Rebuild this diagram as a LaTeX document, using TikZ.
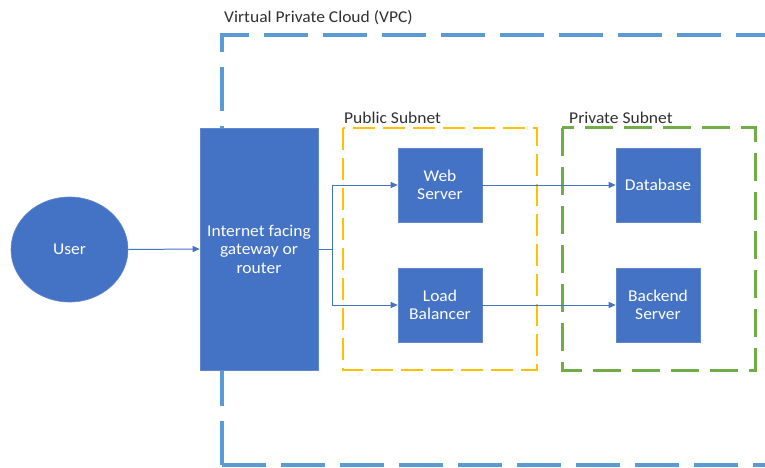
\documentclass[tikz,border=0pt]{standalone}
\usepackage{fontspec}
\setmainfont{Carlito}[FakeStretch=1.06]
\usetikzlibrary{arrows.meta,shapes.geometric}
\definecolor{boxblue}{HTML}{4472C4}
\definecolor{vpcblue}{HTML}{5B9BD5}
\definecolor{subyellow}{HTML}{FFC000}
\definecolor{subgreen}{HTML}{70AD47}
\definecolor{labelgray}{HTML}{303030}
\begin{document}
\begin{tikzpicture}[x=1pt,y=-1pt,
  every node/.style={font=\fontsize{16.5}{18.6}\selectfont},
  block/.style={rectangle, fill=boxblue, draw=boxblue!85!white, line width=0.6pt,
    text=white, align=center, inner sep=2pt},
  server/.style={block, minimum width=84pt, minimum height=74pt},
  conn/.style={draw=boxblue, line width=1pt, -{Triangle[length=7pt,width=6pt]}},
  plainconn/.style={draw=boxblue, line width=1pt},
  grouplabel/.style={anchor=west, inner sep=0pt, text=labelgray},
  vpcframe/.style={draw=vpcblue, line width=4pt, dash pattern=on 44pt off 15pt},
  pubframe/.style={draw=subyellow, line width=2.5pt, dash pattern=on 22pt off 8pt},
  privframe/.style={draw=subgreen, line width=3pt, dash pattern=on 28pt off 11pt}]
\useasboundingbox (0,0) rectangle (765,468);
\clip (0,0) rectangle (765,468);

% Outer VPC boundary, running off the right edge
\draw[vpcframe] (222,465) -- (222,35) -- (800,35);
\draw[vpcframe] (222,465) -- (800,465);
\node[grouplabel] (vpclabel) at (224,18) {Virtual Private Cloud (VPC)};

% Subnet groups
\draw[pubframe] (343,128) rectangle (537,370);
\node[grouplabel] (publabel) at (344,118) {Public Subnet};
\draw[privframe] (562,128) rectangle (755,370);
\node[grouplabel] (privlabel) at (569,118) {Private Subnet};

% Nodes
\node[ellipse, fill=boxblue, draw=boxblue!85!white, line width=0.6pt, text=white,
  minimum width=117pt, minimum height=105pt, inner sep=0pt] (user) at (69.5,249.5) {User};
\node[block, minimum width=118pt, minimum height=242pt] (gw) at (259,249)
  {Internet facing\\gateway or\\router};
\node[server] (web) at (440,185) {Web\\Server};
\node[server] (lb) at (440,305) {Load\\Balancer};
\node[server] (db) at (658,185) {Database};
\node[server] (be) at (658,305) {Backend\\Server};

% Connectors
\coordinate (split) at (332,249);
\draw[conn] (user.east) -- (gw.west);
\draw[plainconn] (gw.east) -- (split);
\draw[conn] (split) |- (web.west);
\draw[conn] (split) |- (lb.west);
\draw[conn] (web.east) -- (db.west);
\draw[conn] (lb.east) -- (be.west);
\end{tikzpicture}
\end{document}
